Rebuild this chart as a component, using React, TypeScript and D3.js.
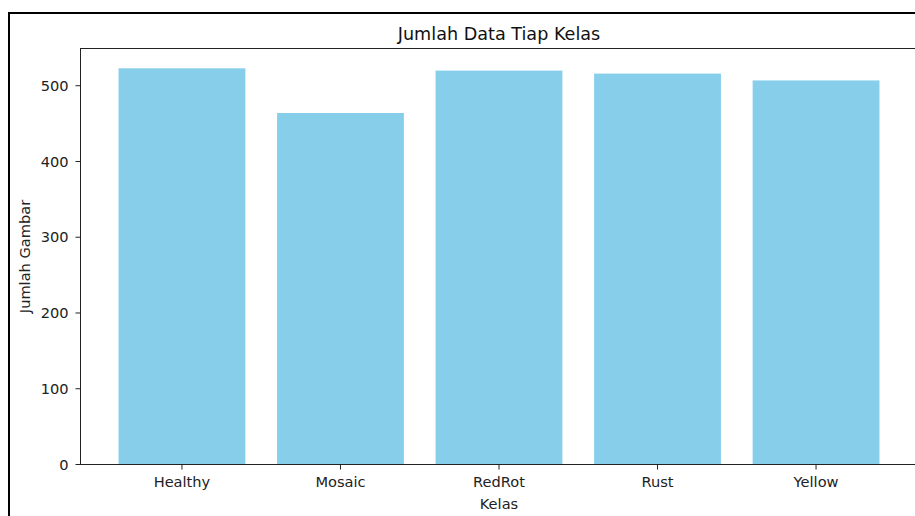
import React from "react";
import * as d3 from "d3";

// jumlah gambar per kelas
const kelas = ["Healthy", "Mosaic", "RedRot", "Rust", "Yellow"];
const jumlah = [523, 464, 520, 516, 507];
const yTicks = [0, 100, 200, 300, 400, 500];

const W = 915;
const H = 516;
const plot = { left: 80.5, top: 48.5, right: 917.5, bottom: 464.5 };
const font = "DejaVu Sans, sans-serif";
const tickSize = 14.6;

export default function App() {
  const x = d3
    .scaleBand<string>()
    .domain(kelas)
    .range([plot.left, plot.right])
    .paddingInner(0.2)
    .paddingOuter(0.24);

  const y = d3
    .scaleLinear()
    .domain([0, d3.max(jumlah)! * 1.05])
    .range([plot.bottom, plot.top]);

  const midY = (plot.top + plot.bottom) / 2;
  const midX = (plot.left + plot.right) / 2;

  return (
    <svg
      width={W}
      height={H}
      style={{ position: "absolute", left: 0, top: 0 }}
      fontFamily={font}
    >
      <rect width={W} height={H} fill="white" />
      {/* frame around the figure */}
      <rect x={9} y={13} width={2000} height={2000} fill="none" stroke="black" strokeWidth={2} />

      {kelas.map((k, i) => (
        <rect
          key={k}
          x={x(k)}
          y={y(jumlah[i])}
          width={x.bandwidth()}
          height={plot.bottom - y(jumlah[i])}
          fill="skyblue"
        />
      ))}

      {/* spines */}
      <rect
        x={plot.left}
        y={plot.top}
        width={plot.right - plot.left}
        height={plot.bottom - plot.top}
        fill="none"
        stroke="#222"
        strokeWidth={1}
      />

      {/* y axis */}
      {yTicks.map((t) => (
        <g key={t}>
          <line x1={plot.left - 5} x2={plot.left} y1={y(t)} y2={y(t)} stroke="#222" />
          <text x={plot.left - 12} y={y(t)} dy="0.36em" textAnchor="end" fontSize={tickSize} fill="#222">
            {t}
          </text>
        </g>
      ))}

      {/* x axis */}
      {kelas.map((k) => {
        const cx = x(k)! + x.bandwidth() / 2;
        return (
          <g key={k}>
            <line x1={cx} x2={cx} y1={plot.bottom} y2={plot.bottom + 5} stroke="#222" />
            <text x={cx} y={487} textAnchor="middle" fontSize={tickSize} fill="#222">
              {k}
            </text>
          </g>
        );
      })}

      <text x={midX} y={509} textAnchor="middle" fontSize={tickSize} fill="#222">
        Kelas
      </text>
      <text
        transform={`translate(29.5,${midY}) rotate(-90)`}
        textAnchor="middle"
        fontSize={tickSize}
        fill="#222"
      >
        Jumlah Gambar
      </text>
      <text x={midX} y={40} textAnchor="middle" fontSize={17.6} fill="#111">
        Jumlah Data Tiap Kelas
      </text>
    </svg>
  );
}
